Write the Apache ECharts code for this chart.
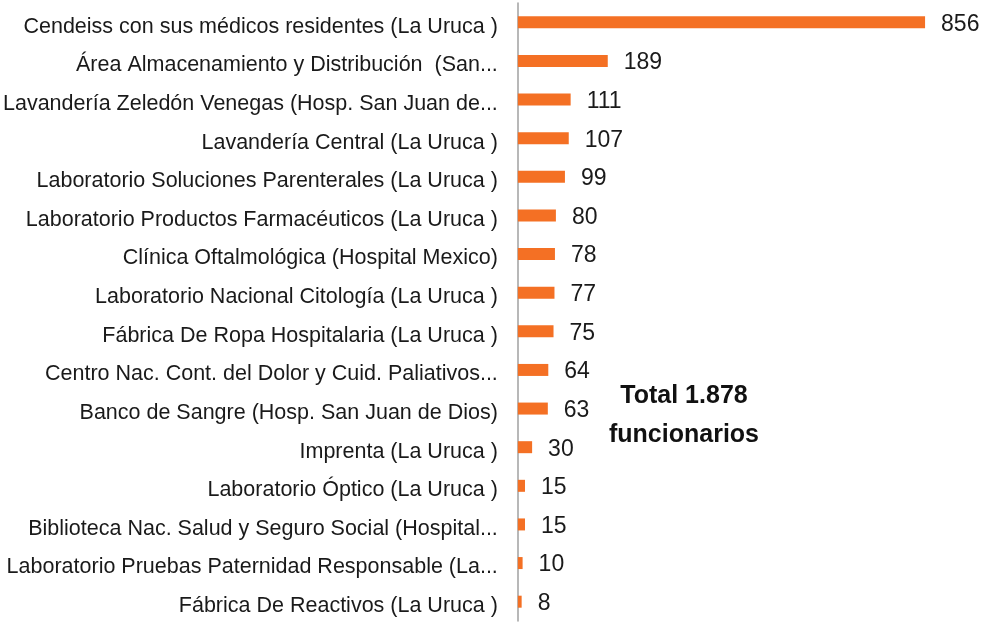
<!DOCTYPE html>
<html>
<head>
<meta charset="utf-8">
<script src="https://cdn.jsdelivr.net/npm/echarts@6/dist/echarts.min.js"></script>
<style>
  html, body { margin: 0; padding: 0; background: #fff; }
  #chart { width: 985px; height: 625px; }
</style>
</head>
<body>
<div id="chart"></div>
<script>
const categories = [
  'Cendeiss con sus médicos residentes (La Uruca )',
  'Área Almacenamiento y Distribución  (San...',
  'Lavandería Zeledón Venegas (Hosp. San Juan de...',
  'Lavandería Central (La Uruca )',
  'Laboratorio Soluciones Parenterales (La Uruca )',
  'Laboratorio Productos Farmacéuticos (La Uruca )',
  'Clínica Oftalmológica (Hospital Mexico)',
  'Laboratorio Nacional Citología (La Uruca )',
  'Fábrica De Ropa Hospitalaria (La Uruca )',
  'Centro Nac. Cont. del Dolor y Cuid. Paliativos...',
  'Banco de Sangre (Hosp. San Juan de Dios)',
  'Imprenta (La Uruca )',
  'Laboratorio Óptico (La Uruca )',
  'Biblioteca Nac. Salud y Seguro Social (Hospital...',
  'Laboratorio Pruebas Paternidad Responsable (La...',
  'Fábrica De Reactivos (La Uruca )'
]
const funcionarios = [856, 189, 111, 107, 99, 80, 78, 77, 75, 64, 63, 30, 15, 15, 10, 8]
const totalLines = ['Total 1.878', 'funcionarios']

const font = '"Liberation Sans", Arial, sans-serif'

const myChart = echarts.init(document.getElementById('chart'), null, { renderer: 'canvas' })
myChart.setOption({
  animation: false,
  grid: {
    left: 517,
    top: 3,
    bottom: 4,
    width: 429
  },
  xAxis: {
    type: 'value',
    min: 0,
    max: 900,
    show: false
  },
  yAxis: {
    type: 'category',
    inverse: true,
    data: categories,
    axisLine: { lineStyle: { color: '#a0a0a0', width: 1.5 } },
    axisTick: { length: 6, lineStyle: { color: '#a0a0a0', width: 1.5 } },
    axisLabel: {
      margin: 20,
      fontFamily: font,
      fontSize: 21.5,
      color: '#1a1a1a',
      // nudge the text a few px below the bar centre, as in the original
      verticalAlign: 'top',
      lineHeight: 9
    }
  },
  series: [
    {
      type: 'bar',
      data: funcionarios,
      barWidth: 12,
      itemStyle: { color: '#f47024' },
      label: {
        show: true,
        position: 'right',
        distance: 16,
        offset: [0, 2],
        fontFamily: font,
        fontSize: 23,
        color: '#1a1a1a'
      }
    }
  ],
  graphic: [
    {
      type: 'text',
      x: 684,
      y: 377,
      style: {
        text: totalLines.join('\n'),
        font: 'bold 25px ' + font,
        fill: '#111',
        align: 'center',
        lineHeight: 39
      }
    }
  ]
})
</script>
</body>
</html>
